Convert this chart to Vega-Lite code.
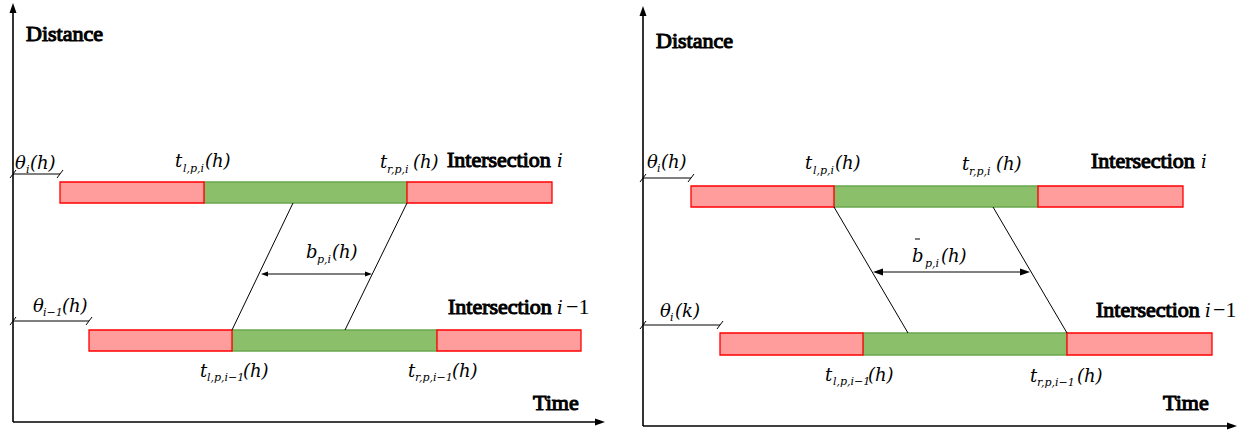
{
  "$schema": "https://vega.github.io/schema/vega-lite/v6.json",
  "width": 1250,
  "height": 432,
  "padding": 0,
  "autosize": {"type": "fit", "contains": "padding"},
  "background": "white",
  "config": {"view": {"stroke": null}},
  "datasets": {
    "bars": [
      {"panel": "a", "signal": "green", "start": 204, "end": 407, "top": 182, "bottom": 203},
      {"panel": "a", "signal": "green", "start": 232, "end": 437, "top": 330, "bottom": 351},
      {"panel": "b", "signal": "green", "start": 834, "end": 1038, "top": 186, "bottom": 207},
      {"panel": "b", "signal": "green", "start": 863, "end": 1067, "top": 333, "bottom": 355},
      {"panel": "a", "signal": "red", "start": 60, "end": 204, "top": 182, "bottom": 203},
      {"panel": "a", "signal": "red", "start": 407, "end": 552, "top": 182, "bottom": 203},
      {"panel": "a", "signal": "red", "start": 89, "end": 232, "top": 330, "bottom": 351},
      {"panel": "a", "signal": "red", "start": 437, "end": 581, "top": 330, "bottom": 351},
      {"panel": "b", "signal": "red", "start": 691, "end": 834, "top": 186, "bottom": 207},
      {"panel": "b", "signal": "red", "start": 1038, "end": 1183, "top": 186, "bottom": 207},
      {"panel": "b", "signal": "red", "start": 720, "end": 863, "top": 333, "bottom": 355},
      {"panel": "b", "signal": "red", "start": 1067, "end": 1212, "top": 333, "bottom": 355}
    ],
    "axes": [
      {"x": 13, "y": 12, "x2": 13, "y2": 422},
      {"x": 13, "y": 422, "x2": 597, "y2": 422},
      {"x": 643, "y": 15, "x2": 643, "y2": 426},
      {"x": 643, "y": 426, "x2": 1229, "y2": 426}
    ],
    "lines": [
      {"x": 293, "y": 203, "x2": 232, "y2": 330},
      {"x": 407, "y": 203, "x2": 345, "y2": 330},
      {"x": 266, "y": 274, "x2": 368, "y2": 274},
      {"x": 13, "y": 174, "x2": 60, "y2": 174},
      {"x": 10, "y": 178, "x2": 16, "y2": 170},
      {"x": 57, "y": 178, "x2": 63, "y2": 170},
      {"x": 13, "y": 321, "x2": 89, "y2": 321},
      {"x": 10, "y": 325, "x2": 16, "y2": 317},
      {"x": 86, "y": 325, "x2": 92, "y2": 317},
      {"x": 834, "y": 207, "x2": 908, "y2": 333},
      {"x": 993, "y": 207, "x2": 1067, "y2": 333},
      {"x": 880, "y": 272, "x2": 1023, "y2": 272},
      {"x": 643, "y": 178, "x2": 691, "y2": 178},
      {"x": 640, "y": 182, "x2": 646, "y2": 174},
      {"x": 688, "y": 182, "x2": 694, "y2": 174},
      {"x": 643, "y": 325, "x2": 720, "y2": 325},
      {"x": 640, "y": 329, "x2": 646, "y2": 321},
      {"x": 717, "y": 329, "x2": 723, "y2": 321},
      {"x": 915, "y": 239, "x2": 920, "y2": 239}
    ],
    "heads": [
      {"x": 13, "y": 3, "dir": "up"},
      {"x": 605, "y": 422, "dir": "right"},
      {"x": 643, "y": 6, "dir": "up"},
      {"x": 1237, "y": 426, "dir": "right"},
      {"x": 261, "y": 274, "dir": "left-small"},
      {"x": 372, "y": 274, "dir": "right-small"},
      {"x": 873, "y": 272, "dir": "left"},
      {"x": 1030, "y": 272, "dir": "right"}
    ],
    "labels": [
      {"role": "heading", "text": "Distance", "x": 26, "y": 41},
      {"role": "heading", "text": "Time", "x": 533, "y": 410},
      {"role": "heading", "text": "Intersection", "x": 447, "y": 167},
      {"role": "math", "text": "i", "x": 557, "y": 167},
      {"role": "heading", "text": "Intersection", "x": 448, "y": 314},
      {"role": "math", "text": "i", "x": 557, "y": 314},
      {"role": "number", "text": "−1", "x": 566, "y": 314},
      {"role": "math", "text": "θ", "x": 15, "y": 169},
      {"role": "subscript", "text": "i", "x": 26, "y": 173},
      {"role": "math", "text": "(h)", "x": 30, "y": 169},
      {"role": "math", "text": "t", "x": 175, "y": 167},
      {"role": "subscript", "text": "l,p,i", "x": 183, "y": 172},
      {"role": "math", "text": "(h)", "x": 205, "y": 167},
      {"role": "math", "text": "t", "x": 380, "y": 168},
      {"role": "subscript", "text": "r,p,i", "x": 387, "y": 173},
      {"role": "math", "text": "(h)", "x": 413, "y": 168},
      {"role": "math", "text": "b", "x": 306, "y": 258},
      {"role": "subscript", "text": "p,i", "x": 317, "y": 263},
      {"role": "math", "text": "(h)", "x": 332, "y": 258},
      {"role": "math", "text": "θ", "x": 33, "y": 312},
      {"role": "subscript", "text": "i−1", "x": 43, "y": 316},
      {"role": "math", "text": "(h)", "x": 62, "y": 312},
      {"role": "math", "text": "t", "x": 200, "y": 377},
      {"role": "subscript", "text": "l,p,i−1", "x": 207, "y": 381},
      {"role": "math", "text": "(h)", "x": 243, "y": 377},
      {"role": "math", "text": "t", "x": 408, "y": 377},
      {"role": "subscript", "text": "r,p,i−1", "x": 415, "y": 381},
      {"role": "math", "text": "(h)", "x": 452, "y": 377},
      {"role": "heading", "text": "Distance", "x": 656, "y": 48},
      {"role": "heading", "text": "Time", "x": 1163, "y": 410},
      {"role": "heading", "text": "Intersection", "x": 1091, "y": 168},
      {"role": "math", "text": "i", "x": 1201, "y": 168},
      {"role": "heading", "text": "Intersection", "x": 1096, "y": 317},
      {"role": "math", "text": "i", "x": 1205, "y": 317},
      {"role": "number", "text": "−1", "x": 1213, "y": 317},
      {"role": "math", "text": "θ", "x": 647, "y": 168},
      {"role": "subscript", "text": "i", "x": 657, "y": 172},
      {"role": "math", "text": "(h)", "x": 661, "y": 168},
      {"role": "math", "text": "t", "x": 805, "y": 169},
      {"role": "subscript", "text": "l,p,i", "x": 813, "y": 174},
      {"role": "math", "text": "(h)", "x": 835, "y": 169},
      {"role": "math", "text": "t", "x": 962, "y": 170},
      {"role": "subscript", "text": "r,p,i", "x": 969, "y": 175},
      {"role": "math", "text": "(h)", "x": 996, "y": 170},
      {"role": "math", "text": "b", "x": 912, "y": 262},
      {"role": "subscript", "text": "p,i", "x": 925, "y": 267},
      {"role": "math", "text": "(h)", "x": 941, "y": 262},
      {"role": "math", "text": "θ", "x": 660, "y": 317},
      {"role": "subscript", "text": "i", "x": 670, "y": 321},
      {"role": "math", "text": "(k)", "x": 675, "y": 317},
      {"role": "math", "text": "t", "x": 825, "y": 381},
      {"role": "subscript", "text": "l,p,i−1", "x": 833, "y": 385},
      {"role": "math", "text": "(h)", "x": 868, "y": 381},
      {"role": "math", "text": "t", "x": 1030, "y": 382},
      {"role": "subscript", "text": "r,p,i−1", "x": 1037, "y": 386},
      {"role": "math", "text": "(h)", "x": 1077, "y": 382}
    ]
  },
  "layer": [
    {
      "data": {"name": "bars"},
      "mark": {"type": "rect", "strokeWidth": 1.3},
      "encoding": {
        "x": {"field": "start", "type": "quantitative", "scale": {"domain": [0, 1250], "nice": false, "zero": false}, "axis": null},
        "x2": {"field": "end"},
        "y": {"field": "top", "type": "quantitative", "scale": {"domain": [0, 432], "nice": false, "zero": false, "reverse": true}, "axis": null},
        "y2": {"field": "bottom"},
        "fill": {"field": "signal", "type": "nominal", "scale": {"domain": ["red", "green"], "range": ["#ff9c9c", "#8cbf6a"]}, "legend": null},
        "stroke": {"field": "signal", "type": "nominal", "scale": {"domain": ["red", "green"], "range": ["#ff0000", "#6aa84f"]}, "legend": null}
      }
    },
    {
      "data": {"name": "axes"},
      "mark": {"type": "rule", "color": "black", "strokeWidth": 1.6},
      "encoding": {
        "x": {"field": "x", "type": "quantitative", "scale": {"domain": [0, 1250], "nice": false, "zero": false}, "axis": null},
        "y": {"field": "y", "type": "quantitative", "scale": {"domain": [0, 432], "nice": false, "zero": false, "reverse": true}, "axis": null},
        "x2": {"field": "x2"},
        "y2": {"field": "y2"}
      }
    },
    {
      "data": {"name": "lines"},
      "mark": {"type": "rule", "color": "black", "strokeWidth": 1},
      "encoding": {
        "x": {"field": "x", "type": "quantitative", "scale": {"domain": [0, 1250], "nice": false, "zero": false}, "axis": null},
        "y": {"field": "y", "type": "quantitative", "scale": {"domain": [0, 432], "nice": false, "zero": false, "reverse": true}, "axis": null},
        "x2": {"field": "x2"},
        "y2": {"field": "y2"}
      }
    },
    {
      "data": {"name": "heads"},
      "mark": {"type": "point", "filled": true, "opacity": 1, "color": "black", "size": 4, "strokeWidth": 0},
      "encoding": {
        "x": {"field": "x", "type": "quantitative", "scale": {"domain": [0, 1250], "nice": false, "zero": false}, "axis": null},
        "y": {"field": "y", "type": "quantitative", "scale": {"domain": [0, 432], "nice": false, "zero": false, "reverse": true}, "axis": null},
        "shape": {"field": "dir", "type": "nominal", "legend": null, "scale": {"domain": ["up", "right", "left", "right-small", "left-small"], "range": ["M0,0L-3.5,10L3.5,10Z", "M0,0L-10,-3.5L-10,3.5Z", "M0,0L10,-3.5L10,3.5Z", "M0,0L-7,-2.6L-7,2.6Z", "M0,0L7,-2.6L7,2.6Z"]}}
      }
    },
    {
      "data": {"name": "labels"},
      "transform": [{"filter": "datum.role === 'heading'"}],
      "mark": {"type": "text", "font": "Liberation Serif", "fontSize": 22, "align": "left", "baseline": "alphabetic", "color": "black", "stroke": "black", "strokeWidth": 1.1},
      "encoding": {
        "x": {"field": "x", "type": "quantitative", "scale": {"domain": [0, 1250], "nice": false, "zero": false}, "axis": null},
        "y": {"field": "y", "type": "quantitative", "scale": {"domain": [0, 432], "nice": false, "zero": false, "reverse": true}, "axis": null},
        "text": {"field": "text"}
      }
    },
    {
      "data": {"name": "labels"},
      "transform": [{"filter": "datum.role === 'math'"}],
      "mark": {"type": "text", "font": "DejaVu Serif", "fontStyle": "italic", "fontSize": 18, "align": "left", "baseline": "alphabetic", "color": "black"},
      "encoding": {
        "x": {"field": "x", "type": "quantitative", "scale": {"domain": [0, 1250], "nice": false, "zero": false}, "axis": null},
        "y": {"field": "y", "type": "quantitative", "scale": {"domain": [0, 432], "nice": false, "zero": false, "reverse": true}, "axis": null},
        "text": {"field": "text"}
      }
    },
    {
      "data": {"name": "labels"},
      "transform": [{"filter": "datum.role === 'number'"}],
      "mark": {"type": "text", "font": "Liberation Serif", "fontSize": 22, "align": "left", "baseline": "alphabetic", "color": "black"},
      "encoding": {
        "x": {"field": "x", "type": "quantitative", "scale": {"domain": [0, 1250], "nice": false, "zero": false}, "axis": null},
        "y": {"field": "y", "type": "quantitative", "scale": {"domain": [0, 432], "nice": false, "zero": false, "reverse": true}, "axis": null},
        "text": {"field": "text"}
      }
    },
    {
      "data": {"name": "labels"},
      "transform": [{"filter": "datum.role === 'subscript'"}],
      "mark": {"type": "text", "font": "DejaVu Serif", "fontStyle": "italic", "fontSize": 11, "align": "left", "baseline": "alphabetic", "color": "black"},
      "encoding": {
        "x": {"field": "x", "type": "quantitative", "scale": {"domain": [0, 1250], "nice": false, "zero": false}, "axis": null},
        "y": {"field": "y", "type": "quantitative", "scale": {"domain": [0, 432], "nice": false, "zero": false, "reverse": true}, "axis": null},
        "text": {"field": "text"}
      }
    }
  ]
}
